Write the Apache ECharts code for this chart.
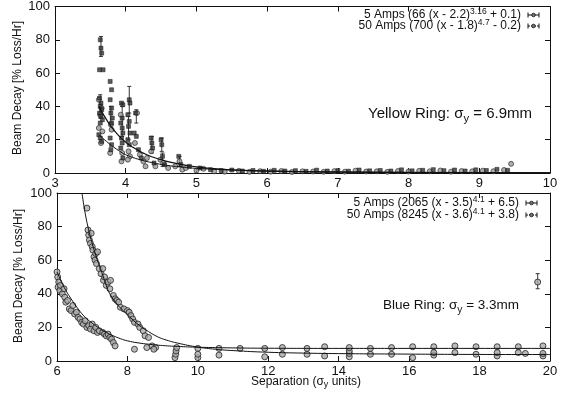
<!DOCTYPE html>
<html><head><meta charset="utf-8">
<script src="https://cdn.jsdelivr.net/npm/echarts@6/dist/echarts.min.js"></script>
<style>html,body{margin:0;padding:0;background:#fff}#c{width:561px;height:398px}</style>
</head><body><div id="c"></div>
<script>
// ---- Tick settings ----
const topXTicks = {min: 3, max: 10, interval: 1};
const botXTicks = {min: 6, max: 20, interval: 2};
const yTicks = {min: 0, max: 100, interval: 20};

// ---- Yellow ring (top panel) data [separation, decay] ----
const yellow5A = [
  [3.64,80],[3.65,75],[3.66,72],[3.63,62],[3.68,62],[3.63,45],[3.65,42],[3.64,40],[3.66,38],[3.63,36],
  [3.65,34],[3.67,32],[3.64,30],[3.62,23],[3.64,21],[3.66,19],[3.78,55],[3.8,50],[3.78,44],[3.8,39],
  [3.79,36],[3.81,33],[3.8,30],[3.78,21],[3.8,17],[3.79,14],[3.94,42],[3.96,41],[3.95,33],[3.93,30],
  [3.95,27],[3.96,24],[3.94,21],[3.95,18],[3.93,15],[3.96,9],[4.05,44],[4.06,42],[4.03,35],[4.05,31],
  [4.04,28],[4.06,24],[4.03,20],[4.05,17],[4.14,36],[4.12,24],[4.15,22],[4.18,14],[4.22,9],[4.36,21],
  [4.37,18],[4.38,15],[4.4,6],[4.5,20],[4.51,17],[4.52,10],[4.55,5],[4.75,10],[4.78,5],[4.9,4],
  [5.05,3],[5.2,2.0],[5.35,1.5],[5.5,1.8],[5.65,1.2],[5.8,1.5],[5.95,1.0],[6.1,1.6],[6.25,1.2],[6.4,1.4],
  [6.55,1.0],[6.7,1.7],[6.85,1.2],[7.0,1.5],[7.15,1.1],[7.3,1.8],[7.45,1.3],[7.6,1.5],[7.75,1.2],[7.9,1.9],
  [8.05,1.3],[8.2,1.6],[8.35,2.0],[8.5,1.4],[8.65,1.8],[8.8,1.2],[8.95,1.9],[9.1,1.5],[9.25,2.2],[9.4,1.6]
];
const yellow50A = [
  [3.62,44],[3.66,39],[3.64,35],[3.62,27],[3.67,25],[3.65,18],[3.79,29],[3.8,26],[3.78,12],[3.93,35],
  [3.95,12],[3.94,7],[4.04,13],[4.06,10],[4.03,8],[4.16,36],[4.13,18],[4.2,11],[4.25,7],[4.28,4],
  [4.3,9],[4.36,13],[4.42,4],[4.49,8],[4.53,6],[4.6,3],[4.7,4],[4.76,7],[4.8,2],[4.85,3],
  [5.0,1.5],[5.1,2.5],[5.25,1.0],[5.4,0.8],[5.6,1.3],[5.75,0.7],[5.9,1.1],[6.05,0.8],[6.2,1.2],[6.35,0.6],
  [6.5,1.0],[6.65,0.9],[6.8,0.7],[6.95,1.1],[7.1,0.8],[7.25,1.4],[7.4,0.9],[7.55,1.0],[7.7,0.7],[7.85,1.2],
  [8.0,0.9],[8.15,1.3],[8.3,1.0],[8.45,1.5],[8.6,0.8],[8.75,1.2],[8.9,1.0],[9.05,1.4],[9.2,1.1],[9.35,1.8],[9.45,5.5]
];
// error bars [separation, low, high]
const yellowErr = [
  [3.65,70,82],[3.64,33,47],[3.79,30,40],[3.95,22,40],[4.05,36,52],[4.04,20,34],[4.15,30,38],
  [4.37,12,22],[4.51,13,21],[4.52,4,12],[4.76,4,10]
];
// fit curves
const yellowFit5A = [[3.62,23],[3.7,20],[3.8,16.5],[3.9,13.5],[4.0,11],[4.2,8],[4.4,6],[4.6,4.5],[4.8,3.5],[5.0,2.8],[5.5,1.8],[6,1.2],[7,0.7],[8,0.45],[9,0.3],[10,0.2]];
const yellowFit50A = [[3.62,40],[3.7,34],[3.8,27.5],[3.9,22.5],[4.0,18.5],[4.1,15.5],[4.2,13],[4.3,11],[4.4,9.3],[4.5,8],[4.6,6.8],[4.8,5],[5.0,3.7],[5.25,2.6],[5.5,1.9],[6.0,1.1],[6.5,0.7],[7,0.5],[8,0.3],[9,0.2],[10,0.15]];

// ---- Blue ring (bottom panel) data ----
const blue5A = [
  [6.0,53],[6.02,50],[6.05,47],[6.03,44],[6.08,42],[6.1,45],[6.15,40],[6.2,43],[6.22,38],[6.25,35],
  [6.3,36],[6.35,31],[6.4,30],[6.45,33],[6.5,28],[6.55,29],[6.6,26],[6.65,25],[6.7,23],[6.75,22],
  [6.8,24],[6.85,20],[6.9,21],[6.95,19],[7.0,22],[7.05,18],[7.1,20],[7.15,17],[7.2,18],[7.3,17],
  [7.35,16],[7.4,15],[7.45,16],[7.5,14],[7.55,13],[7.6,11],[7.65,9],[8.2,7],[8.55,8],[8.75,7],
  [10.0,7.5],[10.6,7.5],[11.2,7.5],[11.9,7.5],[12.4,8],[13.1,7.5],[13.6,8.5],[14.3,8],[14.9,7.5],[15.5,8],
  [16.1,8.5],[16.7,8.5],[17.3,9],[17.9,8.5],[18.5,8.5],[19.1,8.5],[19.8,9]
];
const blue50A = [
  [6.85,91],[6.88,78],[6.9,75],[6.92,72],[6.95,70],[6.97,76],[7.0,68],[7.02,66],[7.05,62],[7.08,60],
  [7.1,64],[7.12,58],[7.15,65],[7.2,55],[7.25,52],[7.3,55],[7.32,48],[7.35,50],[7.4,45],[7.45,47],
  [7.5,43],[7.52,48],[7.6,39],[7.65,37],[7.7,36],[7.75,35],[7.8,32],[7.9,31],[8.0,30],[8.05,29],
  [8.1,27],[8.15,25],[8.2,23],[8.3,22],[8.35,20],[8.45,18],[8.5,15],[8.6,14],[8.7,9],[8.8,8],
  [9.35,2],[9.37,4],[9.38,6],[9.4,8],[10.0,2],[10.0,4],[10.6,3.5],[11.9,2.5],[12.4,4],[13.1,4],
  [13.6,3],[14.3,2.5],[14.3,4.5],[14.3,6],[14.9,4],[15.5,4],[16.1,2],[16.7,3.5],[16.7,5],[17.3,5],
  [17.9,4],[18.5,3],[18.5,5],[19.1,5],[19.3,4.5],[19.8,3],[19.8,4.5],[19.65,47]
];
const blueErr = [[19.65,43,52]];
const blueFit5A = [[6.0,53],[6.2,44],[6.4,37],[6.6,31],[6.8,26],[7.0,22.5],[7.2,19.5],[7.4,17],[7.6,15],[7.8,13.3],[8.0,12],[8.3,10.8],[8.6,10],[9.0,9.2],[9.5,8.6],[10,8.2],[11,7.8],[12,7.6],[14,7.5],[16,7.5],[20,7.5]];
const blueFit50A = [[6.71,100],[6.8,88],[6.9,78],[7.0,70],[7.1,63],[7.2,57],[7.3,51],[7.4,45],[7.5,40],[7.7,34],[7.9,29.5],[8.1,25.5],[8.35,21],[8.6,17.5],[8.85,14.5],[9.1,12.5],[9.5,10.3],[10,8.3],[10.5,7],[11,6.2],[12,5.2],[13,4.7],[14,4.4],[16,4.1],[18,3.9],[20,3.85]];

// ---- Text ----
const yName = 'Beam Decay [% Loss/Hr]';
const xName = 'Separation (σ{sub|y} units)';
const yellowLegend = ['5 Amps (66 (x - 2.2){sup|3.16} + 0.1)', '50 Amps (700 (x - 1.8){sup|4.7} - 0.2)'];
const blueLegend = ['5 Amps (2065 (x - 3.5){sup|4.1} + 6.5)', '50 Amps (8245 (x - 3.6){sup|4.1} + 3.8)'];
const yellowTitle = 'Yellow Ring: σ{sub|y} = 6.9mm';
const blueTitle = 'Blue Ring: σ{sub|y} = 3.3mm';

const FONT = '"Liberation Sans", Arial, sans-serif';
const INK = '#111';

const chart = echarts.init(document.getElementById('c'), null, {renderer: 'canvas'});

function xAx(grid, t, pos, labels) {
  return {type: 'value', gridIndex: grid, position: pos, min: t.min, max: t.max, interval: t.interval,
    axisLine: {show: true, onZero: false, lineStyle: {color: INK, width: 1}},
    axisTick: {show: true, inside: true, length: 5, lineStyle: {color: INK}},
    axisLabel: {show: labels, color: INK, fontFamily: FONT, fontSize: 13, margin: 4},
    splitLine: {show: false}};
}
function yAx(grid, pos, labels) {
  return {type: 'value', gridIndex: grid, position: pos, min: yTicks.min, max: yTicks.max, interval: yTicks.interval,
    axisLine: {show: true, onZero: false, lineStyle: {color: INK, width: 1}},
    axisTick: {show: true, inside: true, length: 5, lineStyle: {color: INK}},
    axisLabel: {show: labels, color: INK, fontFamily: FONT, fontSize: 13, margin: 5},
    splitLine: {show: false}};
}

function errRender(params, api) {
  const x = api.value(0), lo = api.value(1), hi = api.value(2);
  const p1 = api.coord([x, lo]), p2 = api.coord([x, hi]);
  return {type: 'group', children: [
    {type: 'line', shape: {x1: p1[0], y1: p1[1], x2: p2[0], y2: p2[1]}, style: {stroke: '#333', lineWidth: 1}},
    {type: 'line', shape: {x1: p1[0]-2, y1: p1[1], x2: p1[0]+2, y2: p1[1]}, style: {stroke: '#333', lineWidth: 1}},
    {type: 'line', shape: {x1: p2[0]-2, y1: p2[1], x2: p2[0]+2, y2: p2[1]}, style: {stroke: '#333', lineWidth: 1}}
  ]};
}

function legendEntry(text, xr, y, dashed) {
  return [
    {type: 'text', style: {text: text, x: xr, y: y, align: 'right', verticalAlign: 'middle',
      fontFamily: FONT, fontSize: 12, fill: INK, lineHeight: 15,
      rich: {sup: {fontSize: 8.5, fontFamily: FONT, fill: INK, verticalAlign: 'top', lineHeight: 15, padding: [0,0,7,0]}}}},
    {type: 'line', shape: {x1: xr + 7, y1: y, x2: xr + 18, y2: y}, style: {stroke: INK, lineWidth: 1, lineDash: dashed ? [2, 1] : null}},
    {type: 'line', shape: {x1: xr + 7, y1: y - 2.5, x2: xr + 7, y2: y + 2.5}, style: {stroke: INK, lineWidth: 1}},
    {type: 'line', shape: {x1: xr + 18, y1: y - 2.5, x2: xr + 18, y2: y + 2.5}, style: {stroke: INK, lineWidth: 1}},
    {type: 'circle', shape: {cx: xr + 12.5, cy: y, r: 1.8}, style: {fill: '#777', stroke: INK, lineWidth: 0.8}}
  ];
}
function bigLabel(text, x, y, fs) {
  return {type: 'text', style: {text: text, x: x, y: y, align: 'center', verticalAlign: 'middle',
    fontFamily: FONT, fontSize: fs, fill: INK, lineHeight: fs + 6,
    rich: {sub: {fontSize: fs * 0.75, fontFamily: FONT, fill: INK, verticalAlign: 'bottom', lineHeight: fs + 6, padding: [Math.round(fs*0.45),0,0,0]}}}};
}

const graphics = [].concat(
  legendEntry(yellowLegend[0], 521, 15, false),
  legendEntry(yellowLegend[1], 521, 26, true),
  legendEntry(blueLegend[0], 519, 203, false),
  legendEntry(blueLegend[1], 519, 215, true),
  [bigLabel(yellowTitle, 450, 114, 15), bigLabel(blueTitle, 451, 305, 13.5),
   {type: 'text', rotation: Math.PI/2, x: 18, y: 88, style: {text: yName, align: 'center', verticalAlign: 'middle', fontFamily: FONT, fontSize: 12, fill: INK}},
   {type: 'text', rotation: Math.PI/2, x: 19, y: 276, style: {text: yName, align: 'center', verticalAlign: 'middle', fontFamily: FONT, fontSize: 12, fill: INK}},
   {type: 'text', style: {text: xName, x: 306, y: 382, align: 'center', verticalAlign: 'middle', fontFamily: FONT, fontSize: 12, fill: INK, lineHeight: 14,
     rich: {sub: {fontSize: 9, fontFamily: FONT, fill: INK, verticalAlign: 'bottom', lineHeight: 14, padding: [5,0,0,0]}}}}]
);

const markTop5 = {symbol: 'rect', symbolSize: 4, itemStyle: {color: '#333', borderColor: '#111', borderWidth: 0.6}};
const markTop50 = {symbol: 'circle', symbolSize: 5, itemStyle: {color: '#999', borderColor: '#222', borderWidth: 0.8}};
const markBot = {symbol: 'circle', symbolSize: 6, itemStyle: {color: '#aaa', borderColor: '#222', borderWidth: 1}};

chart.setOption({
  animation: false,
  backgroundColor: '#fff',
  grid: [
    {left: 55, right: 11, top: 6, height: 167},
    {left: 57, right: 11, top: 193, height: 168}
  ],
  xAxis: [xAx(0, topXTicks, 'bottom', true), xAx(0, topXTicks, 'top', false),
          xAx(1, botXTicks, 'bottom', true), xAx(1, botXTicks, 'top', false)],
  yAxis: [yAx(0, 'left', true), yAx(0, 'right', false), yAx(1, 'left', true), yAx(1, 'right', false)],
  graphic: graphics,
  series: [
    {type: 'custom', xAxisIndex: 0, yAxisIndex: 0, data: yellowErr, renderItem: errRender, z: 1},
    Object.assign({type: 'scatter', xAxisIndex: 0, yAxisIndex: 0, data: yellow50A, z: 2}, markTop50),
    Object.assign({type: 'scatter', xAxisIndex: 0, yAxisIndex: 0, data: yellow5A, z: 3}, markTop5),
    {type: 'line', xAxisIndex: 0, yAxisIndex: 0, data: yellowFit5A, smooth: true, showSymbol: false, lineStyle: {color: INK, width: 1}, z: 4},
    {type: 'line', xAxisIndex: 0, yAxisIndex: 0, data: yellowFit50A, smooth: true, showSymbol: false, lineStyle: {color: INK, width: 1.2}, z: 4},
    {type: 'custom', xAxisIndex: 2, yAxisIndex: 2, data: blueErr, renderItem: errRender, z: 1},
    Object.assign({type: 'scatter', xAxisIndex: 2, yAxisIndex: 2, data: blue50A, z: 2}, markBot),
    Object.assign({type: 'scatter', xAxisIndex: 2, yAxisIndex: 2, data: blue5A, z: 3}, markBot),
    {type: 'line', xAxisIndex: 2, yAxisIndex: 2, data: blueFit5A, smooth: true, showSymbol: false, lineStyle: {color: INK, width: 1}, z: 4},
    {type: 'line', xAxisIndex: 2, yAxisIndex: 2, data: blueFit50A, smooth: true, showSymbol: false, lineStyle: {color: INK, width: 1}, z: 4}
  ]
});
</script></body></html>
